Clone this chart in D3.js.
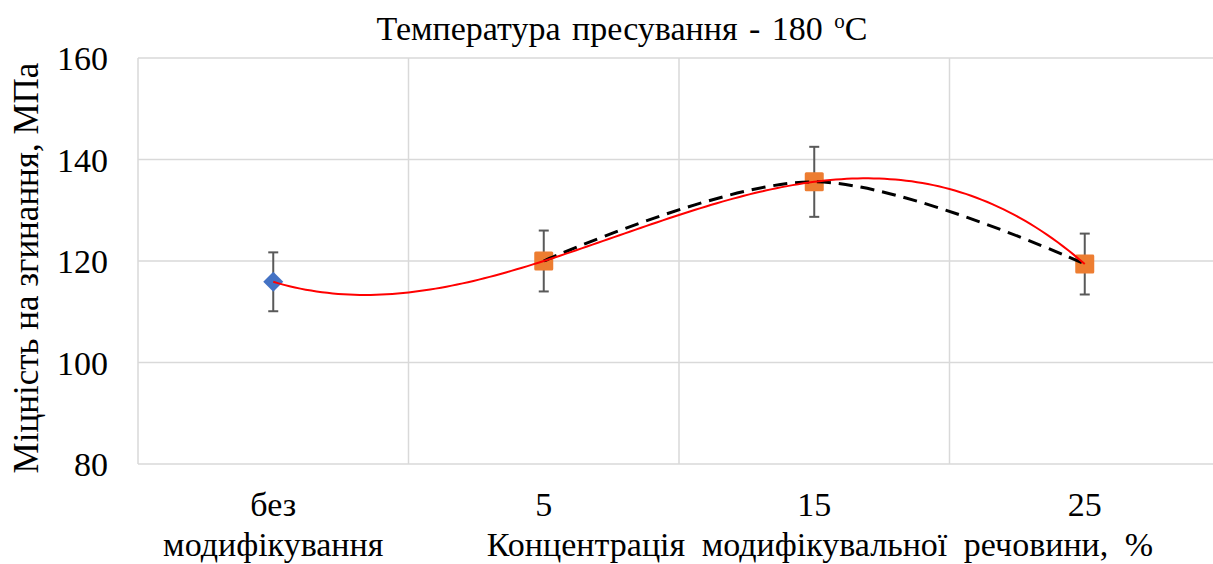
<!DOCTYPE html>
<head>
  <meta charset="utf-8">
  <script src="https://d3js.org/d3.v7.min.js"></script>
  <style>
    body { margin: 0; background: #fff; }
    svg { display: block; }
    svg text { font-family: "Liberation Serif", "Times New Roman", serif; fill: #000; }
  </style>
</head>

<body>
  <script type="text/javascript">

    // categories on the x axis
    var categories = ["без модифікування", "5", "15", "25"];

    // series 1 - without modification
    var baseCats = ["без модифікування"];
    var baseValues = [115.9];
    var baseErrors = [5.8];

    // series 2 - with modifier
    var modCats = ["5", "15", "25"];
    var modValues = [120.0, 135.6, 119.4];
    var modErrors = [6.0, 6.9, 6.0];

    var yTicks = [80, 100, 120, 140, 160];

    var width = 1213;
    var height = 564;
    var margin = { top: 58, left: 138, bottom: 100, right: -7 };
    var fontFam = '"Liberation Serif", "Times New Roman", serif';

    var svg = d3.select('body')
      .append('svg')
      .attr('width', width)
      .attr('height', height);

    // scales
    var xScale = d3.scaleBand()
      .domain(categories)
      .range([margin.left, width - margin.right])
      .padding(0);

    var yScale = d3.scaleLinear()
      .domain([80, 160])
      .range([height - margin.bottom, margin.top]);

    var cx = function(c) { return xScale(c) + xScale.bandwidth() / 2; };
    // position of a category index (1-based) for the trendline
    var idxScale = d3.scaleLinear()
      .domain([1, categories.length])
      .range([cx(categories[0]), cx(categories[categories.length - 1])]);

    // gridlines
    var grid = svg.append('g');
    grid.selectAll('line.h')
      .data(yTicks)
      .enter().append('line')
      .attr('x1', margin.left)
      .attr('x2', width - margin.right)
      .attr('y1', d => yScale(d))
      .attr('y2', d => yScale(d))
      .attr('stroke', '#d9d9d9')
      .attr('stroke-width', 1.5);

    var bounds = categories.map(c => xScale(c)).concat([width - margin.right]);
    grid.selectAll('line.v')
      .data(bounds)
      .enter().append('line')
      .attr('x1', d => d)
      .attr('x2', d => d)
      .attr('y1', yScale(160))
      .attr('y2', yScale(80))
      .attr('stroke', '#d9d9d9')
      .attr('stroke-width', 1.5);

    // y axis (labels only)
    var yAxis = d3.axisLeft(yScale)
      .tickValues(yTicks)
      .tickSize(0)
      .tickPadding(30);

    var yg = svg.append('g')
      .attr('transform', 'translate(' + margin.left + ',0)')
      .call(yAxis);
    yg.select('.domain').remove();
    yg.selectAll('text')
      .style('font-family', fontFam)
      .style('font-size', '34px')
      .attr('fill', '#000')
      .attr('dy', '0.35em');

    // x axis labels
    var xAxis = d3.axisBottom(xScale)
      .tickSize(0)
      .tickFormat('');
    var xg = svg.append('g')
      .attr('transform', 'translate(0,' + yScale(80) + ')')
      .call(xAxis);
    xg.select('.domain').remove();
    xg.selectAll('.tick').each(function(d) {
      var words = d.split(' ');
      var t = d3.select(this).append('text')
        .attr('text-anchor', 'middle')
        .style('font-family', fontFam)
        .style('font-size', '34px');
      words.forEach(function(w, i) {
        t.append('tspan')
          .attr('x', 0)
          .attr('y', 52 + i * 40)
          .text(w);
      });
    });

    // titles
    svg.append('text')
      .attr('x', 622)
      .attr('y', 40)
      .attr('text-anchor', 'middle')
      .style('font-family', fontFam)
      .style('font-size', '34px')
      .style('word-spacing', '3px')
      .html('Температура пресування - 180 <tspan dy="-12" font-size="21">o</tspan><tspan dy="12">C</tspan>');

    svg.append('text')
      .attr('transform', 'translate(38,268) rotate(-90)')
      .attr('text-anchor', 'middle')
      .style('font-family', fontFam)
      .style('font-size', '35px')
      .text('Міцність на згинання, МПа');

    svg.append('text')
      .attr('x', 820)
      .attr('y', 556)
      .attr('text-anchor', 'middle')
      .style('font-family', fontFam)
      .style('font-size', '34px')
      .style('word-spacing', '8px')
      .text('Концентрація модифікувальної речовини, %');

    // error bars
    function errorBars(cats, vals, errs) {
      var g = svg.append('g')
        .attr('stroke', '#595959')
        .attr('stroke-width', 2);
      cats.forEach(function(c, i) {
        var x = cx(c), top = yScale(vals[i] + errs[i]), bot = yScale(vals[i] - errs[i]);
        g.append('line').attr('x1', x).attr('x2', x).attr('y1', top).attr('y2', bot);
        g.append('line').attr('x1', x - 5).attr('x2', x + 5).attr('y1', top).attr('y2', top);
        g.append('line').attr('x1', x - 5).attr('x2', x + 5).attr('y1', bot).attr('y2', bot);
      });
    }
    errorBars(baseCats, baseValues, baseErrors);
    errorBars(modCats, modValues, modErrors);

    // markers
    svg.selectAll('path.diamond')
      .data(baseCats)
      .enter().append('path')
      .attr('d', d3.symbol().type(d3.symbolSquare).size(200))
      .attr('transform', (d, i) => 'translate(' + cx(d) + ',' + yScale(baseValues[i]) + ') rotate(45)')
      .attr('fill', '#4472c4');

    svg.selectAll('rect.sq')
      .data(modCats)
      .enter().append('rect')
      .attr('x', d => cx(d) - 9.5)
      .attr('y', (d, i) => yScale(modValues[i]) - 9.5)
      .attr('width', 19)
      .attr('height', 19)
      .attr('rx', 1.5)
      .attr('fill', '#ed7d31');

    // smoothed dashed line through the modified series
    var smooth = d3.line()
      .x(d => d[0])
      .y(d => d[1])
      .curve(d3.curveCardinal.tension(0));
    svg.append('path')
      .attr('d', smooth(modCats.map((c, i) => [cx(c), yScale(modValues[i])])))
      .attr('fill', 'none')
      .attr('stroke', '#000')
      .attr('stroke-width', 3)
      .attr('stroke-dasharray', '14,8');

    // polynomial least-squares fit (trendline)
    function polyFit(xs, ys, order) {
      var n = order + 1;
      var A = [], b = [];
      for (var r = 0; r < n; r++) {
        A.push([]);
        for (var c = 0; c < n; c++) A[r].push(d3.sum(xs, x => Math.pow(x, r + c)));
        b.push(d3.sum(xs, (x, i) => ys[i] * Math.pow(x, r)));
      }
      for (var k = 0; k < n; k++) {
        for (var r2 = k + 1; r2 < n; r2++) {
          var f = A[r2][k] / A[k][k];
          for (var c2 = k; c2 < n; c2++) A[r2][c2] -= f * A[k][c2];
          b[r2] -= f * b[k];
        }
      }
      var coef = new Array(n).fill(0);
      for (var k2 = n - 1; k2 >= 0; k2--) {
        var s = b[k2];
        for (var j = k2 + 1; j < n; j++) s -= A[k2][j] * coef[j];
        coef[k2] = s / A[k2][k2];
      }
      return function(x) { return d3.sum(coef, (cf, p) => cf * Math.pow(x, p)); };
    }

    var line = d3.line()
      .x(d => idxScale(d[0]))
      .y(d => yScale(d[1]));

    // red cubic trendline over all points
    var allIdx = categories.map((c, i) => i + 1);
    var allVals = baseValues.concat(modValues);
    var cubic = polyFit(allIdx, allVals, 3);
    var cubicPts = d3.range(1, categories.length + 0.001, 0.02).map(t => [t, cubic(t)]);
    svg.append('path')
      .attr('d', line(cubicPts))
      .attr('fill', 'none')
      .attr('stroke', '#ff0000')
      .attr('stroke-width', 2);

  </script>
</body>
